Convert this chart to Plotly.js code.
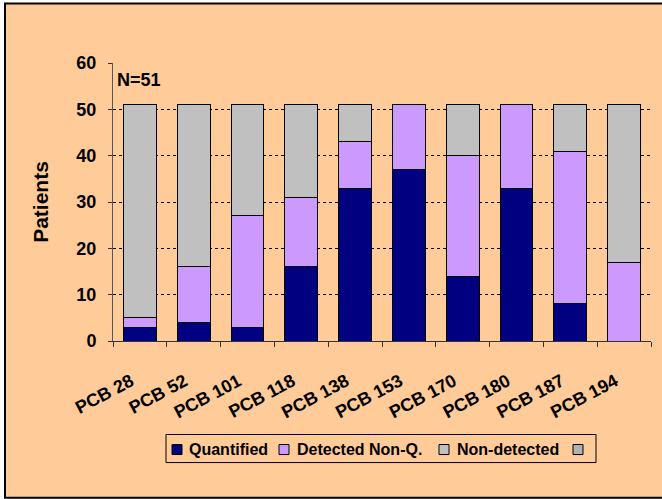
<!DOCTYPE html>
<html>
<head>
<meta charset="utf-8">
<script src="https://cdn.plot.ly/plotly-3.0.1.min.js"></script>
<style>html,body{margin:0;padding:0;background:#fff;}#chart{width:662px;height:499px;}</style>
</head>
<body>
<div id="chart"></div>
<script>
const categories = ["PCB 28","PCB 52","PCB 101","PCB 118","PCB 138","PCB 153","PCB 170","PCB 180","PCB 187","PCB 194"];
const quantified = [3, 4, 3, 16, 33, 37, 14, 33, 8, 0];
const detectedNonQ = [2, 12, 24, 15, 10, 14, 26, 18, 33, 17];
const nonDetected = [46, 35, 24, 20, 8, 0, 11, 0, 10, 34];
const extraSeries = [0, 0, 0, 0, 0, 0, 0, 0, 0, 0];
const seriesNames = ["Quantified", "Detected Non-Q.", "Non-detected", ""];
const yTicks = [0, 10, 20, 30, 40, 50, 60];

const colors = ["#000080", "#CC99FF", "#C0C0C0", "#B2B2B2"];
const seriesValues = [quantified, detectedNonQ, nonDetected, extraSeries];

const FAM = "Liberation Sans, Arial, sans-serif";
const traces = seriesValues.map((vals, i) => ({
  type: "bar", name: seriesNames[i], x: categories, y: vals,
  marker: {color: colors[i], line: {color: "#000", width: 1}}
}));

const L = 113, R = 651, T = 63.3, B = 340.7;
const px = (p) => (p - L) / (R - L);
const py = (p) => (B - p) / (B - T);

const shapes = [{
  type: "rect", xref: "paper", yref: "paper", layer: "below",
  x0: px(5), x1: px(664), y0: py(497), y1: py(4),
  fillcolor: "#FFCC99", line: {color: "#000", width: 2}
}, {
  type: "rect", xref: "paper", yref: "paper", layer: "above",
  x0: px(166), x1: px(596), y0: py(462), y1: py(434),
  fillcolor: "#FFCC99", line: {color: "#000", width: 1}
}];
const annotations = [{
  xref: "paper", yref: "paper", x: px(115), y: py(68), xanchor: "left", yanchor: "top",
  text: "<b>N=51</b>", showarrow: false, font: {family: FAM, size: 18, color: "#000"}
}];

// manual legend (Excel style): small squares + bold labels
const legSquareX = [172, 279, 439, 573];
const legTextX = [188, 296, 456, 0];
seriesNames.forEach((name, i) => {
  shapes.push({
    type: "rect", xref: "paper", yref: "paper", layer: "above",
    x0: px(legSquareX[i]), x1: px(legSquareX[i] + 10), y0: py(454), y1: py(444),
    fillcolor: colors[i], line: {color: "#000", width: 1}
  });
  if (name) {
    annotations.push({
      xref: "paper", yref: "paper", x: px(legTextX[i] - 1), y: py(449),
      xanchor: "left", yanchor: "middle", showarrow: false,
      text: "<b>" + name + "</b>", font: {family: FAM, size: 16, color: "#000"}
    });
  }
});

const layout = {
  width: 662, height: 499,
  margin: {l: L, r: 662 - R, t: T, b: 499 - B, pad: 0},
  paper_bgcolor: "#ffffff",
  plot_bgcolor: "rgba(0,0,0,0)",
  barmode: "stack",
  bargap: 0.39,
  font: {family: FAM, color: "#000"},
  showlegend: false,
  xaxis: {
    type: "category", tickangle: -28,
    tickvals: categories, ticktext: categories.map(c => "<b>" + c + "</b>"),
    tickfont: {family: FAM, size: 18, color: "#000"},
    ticks: "outside", ticklen: 5, tickcolor: "#333", tickson: "boundaries",
    ticklabelstandoff: 22, ticklabelshift: -9,
    showline: true, linecolor: "#333", linewidth: 1, showgrid: false
  },
  yaxis: {
    range: [0, 60], tickvals: yTicks, ticktext: yTicks.map(v => "<b>" + v + "</b>"),
    tickfont: {family: FAM, size: 18, color: "#000"},
    ticks: "outside", ticklen: 4, tickcolor: "#333", ticklabelstandoff: 8,
    showline: true, linecolor: "#555", linewidth: 1,
    showgrid: true, gridcolor: "#000", griddash: "dot", gridwidth: 1,
    zeroline: false,
    title: {text: "<b>Patients</b>", font: {family: FAM, size: 21, color: "#000"}, standoff: 22}
  },
  shapes: shapes,
  annotations: annotations
};

Plotly.newPlot("chart", traces, layout, {displayModeBar: false, staticPlot: true});
</script>
</body>
</html>
